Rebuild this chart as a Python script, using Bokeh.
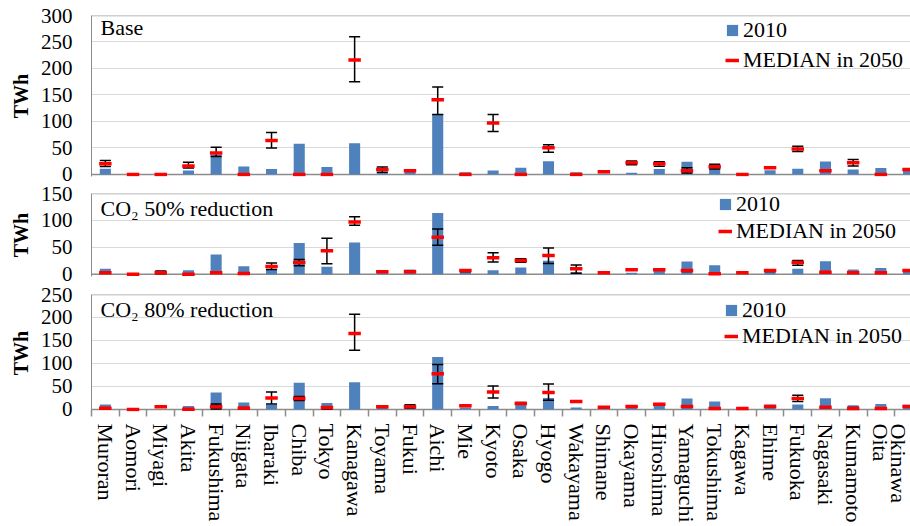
import numpy as np
from bokeh.plotting import figure
from bokeh.models import (Range1d, FixedTicker, Span, Label, Legend, LegendItem,
                          ColumnDataSource)
from bokeh.transform import dodge
from bokeh.layouts import column
from bokeh.embed import file_html
from bokeh.resources import INLINE

regions = ["Muroran", "Aomori", "Miyagi", "Akita", "Fukushima", "Niigata", "Ibaraki",
           "Chiba", "Tokyo", "Kanagawa", "Toyama", "Fukui", "Aichi", "Mie", "Kyoto",
           "Osaka", "Hyogo", "Wakayama", "Shimane", "Okayama", "Hiroshima", "Yamaguchi",
           "Tokushima", "Kagawa", "Ehime", "Fukuoka", "Nagasaki", "Kumamoto", "Oita",
           "Okinawa"]

gen_2010 = [10.5, 0, 0, 7.5, 37, 15, 10, 58, 14, 59, 3, 9, 114, 4, 7.5, 12.5, 25, 4, 1, 3,
            10, 24, 17, 0, 8, 10.5, 24.5, 9, 12, 10]

base_median = [20, 0, 0, 16, 40.5, 0, 64, 0, 0, 216, 9, 7, 141, 0, 97, 0, 50.5, 0, 5, 22,
               20, 7, 14.5, 0, 12.5, 48, 7, 22, 0, 9]
base_low = [15, 0, 0, 12, 34, 0, 50, 0, 0, 175, 4, 7, 113, 0, 81, 0, 42, 0, 5, 18,
            15.5, 2.5, 10, 0, 12.5, 43, 7, 16, 0, 9]
base_high = [26, 0, 0, 23, 51, 0, 79, 0, 0, 260, 14, 7, 165, 0, 113, 0, 56, 0, 5, 25.5,
             24, 12.5, 19, 0, 12.5, 53, 7, 28, 0, 9]

co2_50_median = [3, 0, 3, 0, 3, 1.5, 14.5, 22, 44, 97, 5, 5, 69, 7, 31, 25.5, 35, 10.5,
                 3, 8.5, 8.5, 7, 1, 3, 7, 22, 4, 3, 3, 7]
co2_50_low = [3, 0, 1, 0, 3, 1, 9, 16, 19.5, 91, 5, 5, 54, 5, 23, 22.5, 20, 2,
              3, 8.5, 8.5, 5.5, 1, 3, 5.5, 17, 4, 3, 3, 7]
co2_50_high = [3, 0, 6, 0, 3, 3, 21, 27.5, 67, 107, 5, 5, 84, 8, 40, 29, 49, 17.5,
               3, 8.5, 8.5, 8, 1, 3, 8.5, 25.5, 4, 3, 3, 7]

co2_80_median = [2.5, 0, 6, 0.5, 6, 2.5, 25, 24, 4, 165, 6, 6, 77.5, 8, 38, 13, 37, 17,
                 4.5, 6.5, 11, 6.5, 2, 2, 6.5, 24, 4.5, 2, 2, 6.5]
co2_80_low = [2.5, 0, 6, 0.5, 1, 1, 12, 19.5, 1, 129, 6, 3, 56, 8, 25, 11.5, 20, 17,
              4.5, 6.5, 9.5, 6.5, 2, 2, 5.5, 17, 4.5, 1, 2, 6.5]
co2_80_high = [2.5, 0, 6, 0.5, 12, 4, 38, 28, 6, 207, 6, 10, 98, 8, 51, 15, 55.5, 17,
               4.5, 6.5, 12.5, 6.5, 2, 2, 8.5, 31, 4.5, 4, 2, 6.5]

panel_titles = ["Base", "CO\u2082 50% reduction", "CO\u2082 80% reduction"]
legend_labels = ["2010", "MEDIAN in 2050"]
y_label = "TWh"

FONT = "Liberation Serif"
BAR = "#4F81BD"
GRID = "#D9D9D9"
AXIS = "#8C8C8C"

xs = list(range(1, len(regions) + 1))
x_range = Range1d(0.5, 30.07)


def make_panel(title, med, lo, hi, ystart, ymax, height, btop, bbot,
               leg_x, leg_y, pitch, title_dy, show_x):
    p = figure(width=910, height=height, x_range=x_range,
               y_range=Range1d(ystart, ymax),
               output_backend="svg", toolbar_location=None,
               min_border_left=91, min_border_right=0,
               min_border_top=btop, min_border_bottom=bbot)
    p.outline_line_color = None
    p.background_fill_color = "white"
    p.border_fill_color = "white"

    src = ColumnDataSource(dict(x=xs, gen=gen_2010, med=med, lo=lo, hi=hi))

    bars = p.vbar(x="x", top="gen", bottom=0, width=0.4, source=src,
                  fill_color=BAR, line_color=None)
    # error bars (min-max range around the 2050 median)
    p.segment(x0="x", x1="x", y0="lo", y1="hi", source=src,
              line_color="black", line_width=1.5)
    p.segment(x0=dodge("x", -0.2), x1=dodge("x", 0.2), y0="lo", y1="lo", source=src,
              line_color="black", line_width=1.5)
    p.segment(x0=dodge("x", -0.2), x1=dodge("x", 0.2), y0="hi", y1="hi", source=src,
              line_color="black", line_width=1.5)
    meds = p.segment(x0=dodge("x", -0.225), x1=dodge("x", 0.225), y0="med", y1="med",
                     source=src, line_color="#FF0000", line_width=3.5, line_cap="butt")

    ticks = list(range(0, int(ymax) + 1, 50))
    p.yaxis.ticker = FixedTicker(ticks=ticks)
    p.ygrid.ticker = FixedTicker(ticks=ticks)
    p.ygrid.grid_line_color = GRID
    p.ygrid.grid_line_width = 1
    p.xgrid.visible = False
    p.yaxis.axis_line_color = AXIS
    p.yaxis.axis_line_width = 1
    p.yaxis.major_tick_out = 0
    p.yaxis.major_tick_in = 0
    p.yaxis.minor_tick_out = 0
    p.yaxis.minor_tick_in = 0
    p.yaxis.major_label_standoff = 19
    p.yaxis.major_label_text_font = FONT
    p.yaxis.major_label_text_font_size = "21px"
    p.yaxis.major_label_text_color = "black"
    p.yaxis.axis_label = y_label
    p.yaxis.axis_label_text_font = FONT
    p.yaxis.axis_label_text_font_size = "20px"
    p.yaxis.axis_label_text_font_style = "bold"
    p.yaxis.axis_label_text_color = "black"
    p.yaxis.axis_label_standoff = 6

    p.add_layout(Span(location=0, dimension="width", line_color=AXIS,
                      line_width=1.5, level="underlay"))
    p.add_layout(Span(location=ymax, dimension="width", line_color="#A0A0A0",
                      line_width=1.5, level="underlay"))

    if show_x:
        p.xaxis.ticker = FixedTicker(ticks=xs, minor_ticks=[x + 0.5 for x in xs] + [0.5])
        p.xaxis.major_label_overrides = {x: r for x, r in zip(xs, regions)}
        p.xaxis.major_label_orientation = "vertical"
        p.xaxis.major_label_text_font = FONT
        p.xaxis.major_label_text_font_size = "22px"
        p.xaxis.major_label_text_color = "black"
        p.xaxis.major_label_standoff = 7
        p.xaxis.axis_line_color = None
        p.xaxis.major_tick_out = 0
        p.xaxis.major_tick_in = 0
        p.xaxis.minor_tick_out = 5
        p.xaxis.minor_tick_in = 2
        p.xaxis.minor_tick_line_color = AXIS
        p.xaxis.minor_tick_line_width = 1.5
    else:
        p.xaxis.visible = False

    p.add_layout(Label(x=0.5, y=ymax, x_offset=9, y_offset=-title_dy, text=title,
                       text_baseline="top", text_font=FONT, text_font_size="22px",
                       text_color="black"))

    legend = Legend(items=[LegendItem(label=legend_labels[0], renderers=[bars]),
                           LegendItem(label=legend_labels[1], renderers=[meds])],
                    location=(leg_x, leg_y), padding=0, spacing=0, margin=0,
                    glyph_width=14, glyph_height=14, label_height=pitch,
                    label_standoff=4, label_text_font=FONT,
                    label_text_font_size="22px", label_text_color="black",
                    border_line_color=None, background_fill_alpha=0)
    p.add_layout(legend)
    return p


p1 = make_panel(panel_titles[0], base_median, base_low, base_high, -4, 300,
                184, 15, 8, 634, 101, 30, -1, False)
p2 = make_panel(panel_titles[1], co2_50_median, co2_50_low, co2_50_high, -4, 150,
                100, 9, 8, 627, 31.5, 27, 2, False)
p3 = make_panel(panel_titles[2], co2_80_median, co2_80_low, co2_80_high, -4.5, 250,
                242, 10, 115, 633, 62.5, 25, 2, True)

layout = column(p1, p2, p3, spacing=0)
open("out.html", "w").write(file_html(layout, INLINE))
